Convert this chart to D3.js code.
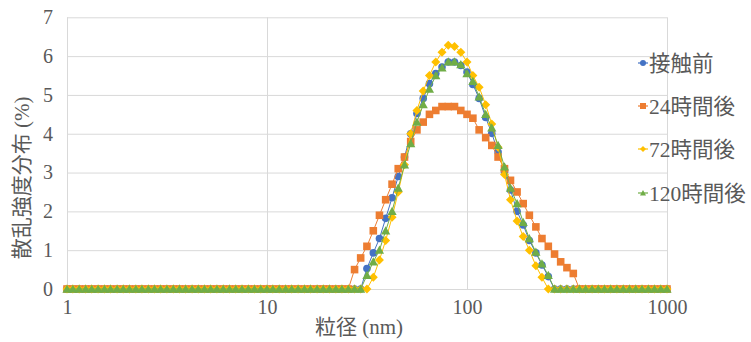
<!doctype html>
<html>
<head>
<meta charset="utf-8">
<title>散乱強度分布</title>
<script src="https://d3js.org/d3.v7.min.js"></script>
<style>
  body { margin: 0; background: #fff; }
  svg { display: block; }
  text { fill: #595959; font-family: "Liberation Serif", "Noto Sans CJK JP", serif; }
  .axis .domain { display: none; }
  .axis line { stroke: #d9d9d9; stroke-width: 1; }
</style>
</head>
<body>
<svg width="751" height="342"></svg>
<script>
// particle diameter bins (nm)
var diameters = [
  1, 1.07, 1.15, 1.24, 1.33, 1.43, 1.54, 1.65, 1.78, 1.91, 2.05, 2.21, 2.37, 2.55, 2.74, 2.94,
  3.16, 3.40, 3.65, 3.92, 4.22, 4.53, 4.87, 5.23, 5.62, 6.04, 6.49, 6.98, 7.50, 8.06, 8.66, 9.31,
  10, 10.7, 11.5, 12.4, 13.3, 14.3, 15.4, 16.5, 17.8, 19.1, 20.5, 22.1, 23.7, 25.5, 27.4, 29.4,
  31.6, 34.0, 36.5, 39.2, 42.2, 45.3, 48.7, 52.3, 56.2, 60.4, 64.9, 69.8, 75.0, 80.6, 86.6, 93.1,
  100, 107, 115, 124, 133, 143, 154, 165, 178, 191, 205, 221, 237, 255, 274, 294,
  316, 340, 365, 392, 422, 453, 487, 523, 562, 604, 649, 698, 750, 806, 866, 931,
  1000
];

var seriesNames = ["接触前", "24時間後", "72時間後", "120時間後"];

var before = [
  0,0,0,0,0,0,0,0,0,0,0,0,0,0,0,0,
  0,0,0,0,0,0,0,0,0,0,0,0,0,0,0,0,
  0,0,0,0,0,0,0,0,0,0,0,0,0,0,0,0,
  0.53,0.93,1.3,1.82,2.35,2.9,3.4,4.0,4.52,4.91,5.29,5.55,5.72,5.85,5.85,5.76,
  5.59,5.27,4.91,4.42,4.01,3.53,3.02,2.55,2.0,1.65,1.25,0.93,0.62,0.32,0,0,
  0,0,0,0,0,0,0,0,0,0,0,0,0,0,0,0,
  0
];
var after24 = [
  0,0,0,0,0,0,0,0,0,0,0,0,0,0,0,0,
  0,0,0,0,0,0,0,0,0,0,0,0,0,0,0,0,
  0,0,0,0,0,0,0,0,0,0,0,0,0,0,0.5,0.8,
  1.1,1.5,1.9,2.3,2.7,3.1,3.4,3.8,4.1,4.3,4.5,4.6,4.7,4.7,4.7,4.6,
  4.5,4.4,4.1,3.9,3.7,3.4,3.1,2.8,2.5,2.2,1.9,1.6,1.3,1.1,0.9,0.7,
  0.55,0.4,0,0,0,0,0,0,0,0,0,0,0,0,0,0,
  0
];
var after72 = [
  0,0,0,0,0,0,0,0,0,0,0,0,0,0,0,0,
  0,0,0,0,0,0,0,0,0,0,0,0,0,0,0,0,
  0,0,0,0,0,0,0,0,0,0,0,0,0,0,0,0,
  0,0.3,0.75,1.25,1.85,2.5,3.2,4.0,4.6,5.1,5.5,5.85,6.1,6.28,6.25,6.1,
  5.85,5.5,5.2,4.75,4.25,3.65,2.95,2.3,1.75,1.35,1.0,0.6,0.3,0,0,0,
  0,0,0,0,0,0,0,0,0,0,0,0,0,0,0,0,
  0
];
var after120 = [
  0,0,0,0,0,0,0,0,0,0,0,0,0,0,0,0,
  0,0,0,0,0,0,0,0,0,0,0,0,0,0,0,0,
  0,0,0,0,0,0,0,0,0,0,0,0,0,0,0,0,
  0.35,0.7,1.0,1.5,2.0,2.6,3.2,3.75,4.3,4.75,5.15,5.5,5.7,5.85,5.85,5.78,
  5.55,5.35,4.95,4.5,4.15,3.7,3.15,2.6,2.2,1.72,1.3,0.95,0.65,0.35,0,0,
  0,0,0,0,0,0,0,0,0,0,0,0,0,0,0,0,
  0
];

var yTicks = [0, 1, 2, 3, 4, 5, 6, 7];
var xTicks = [1, 10, 100, 1000];
var colors = ["#4472C4", "#ED7D31", "#FFC000", "#70AD47"];

var svg = d3.select("svg"),
    plotLeft = 67, plotRight = 667, plotTop = 17.3, plotBottom = 289;

var x = d3.scaleLog().domain([1, 1000]).range([plotLeft, plotRight]);
var y = d3.scaleLinear().domain([0, 7]).range([plotBottom, plotTop]);

// marker shapes
function shape(kind, r) {
  if (kind == "circle") return "M" + (-r) + ",0A" + r + "," + r + " 0 1,0 " + r + ",0A" + r + "," + r + " 0 1,0 " + (-r) + ",0Z";
  if (kind == "square") return "M" + (-r) + "," + (-r) + "H" + r + "V" + r + "H" + (-r) + "Z";
  if (kind == "diamond") return "M0," + (-r) + "L" + r + ",0L0," + r + "L" + (-r) + ",0Z";
  return "M0," + (-r) + "L" + r + "," + (r * 0.8) + "L" + (-r) + "," + (r * 0.8) + "Z";
}
var kinds = ["circle", "square", "diamond", "triangle"];
var sizes = [3.8, 3.8, 4.5, 4.6];

// grid + axes
svg.append("g")
   .attr("class", "axis")
   .attr("transform", "translate(" + plotLeft + ",0)")
   .call(d3.axisLeft(y).tickValues(yTicks).tickSize(-(plotRight - plotLeft)).tickPadding(14).tickFormat(d3.format("d")))
   .selectAll("text").style("font-size", "20px").attr("fill", "#595959");

svg.append("g")
   .attr("class", "axis")
   .attr("transform", "translate(0," + plotBottom + ")")
   .call(d3.axisBottom(x).tickValues(xTicks).tickSize(-(plotBottom - plotTop)).tickPadding(11).tickFormat(function(d) { return d; }))
   .selectAll("text").style("font-size", "20px").attr("fill", "#595959");

// series
var allSeries = [before, after24, after72, after120];
var line = d3.line()
    .x(function(d, i) { return x(diameters[i]); })
    .y(function(d) { return y(d); });

allSeries.forEach(function(vals, s) {
  var g = svg.append("g");
  g.append("path")
   .datum(vals)
   .attr("fill", "none")
   .attr("stroke", colors[s])
   .attr("stroke-width", 1)
   .attr("d", line);
  g.selectAll("path.m")
   .data(vals)
   .enter().append("path")
   .attr("class", "m")
   .attr("transform", function(d, i) { return "translate(" + x(diameters[i]) + "," + y(d) + ")"; })
   .attr("d", shape(kinds[s], sizes[s]))
   .attr("fill", colors[s]);
});

// axis titles
svg.append("text")
   .attr("x", 359).attr("y", 334)
   .attr("text-anchor", "middle")
   .style("font-size", "21px")
   .text("粒径 (nm)");

svg.append("text")
   .attr("transform", "translate(29,178) rotate(-90)")
   .attr("text-anchor", "middle")
   .style("font-size", "21px")
   .text("散乱強度分布 (%)");

// legend
var legendY = [63, 106, 149, 193];
seriesNames.forEach(function(name, s) {
  var lg = svg.append("g").attr("transform", "translate(643," + legendY[s] + ")");
  lg.append("line").attr("x1", -5).attr("x2", 5).attr("stroke", colors[s]).attr("stroke-width", 1.2);
  lg.append("path").attr("d", shape(kinds[s], 3)).attr("fill", colors[s]);
  lg.append("text")
    .attr("x", 6).attr("dy", "0.35em")
    .style("font-size", "21.5px")
    .text(name);
});
</script>
</body>
</html>
